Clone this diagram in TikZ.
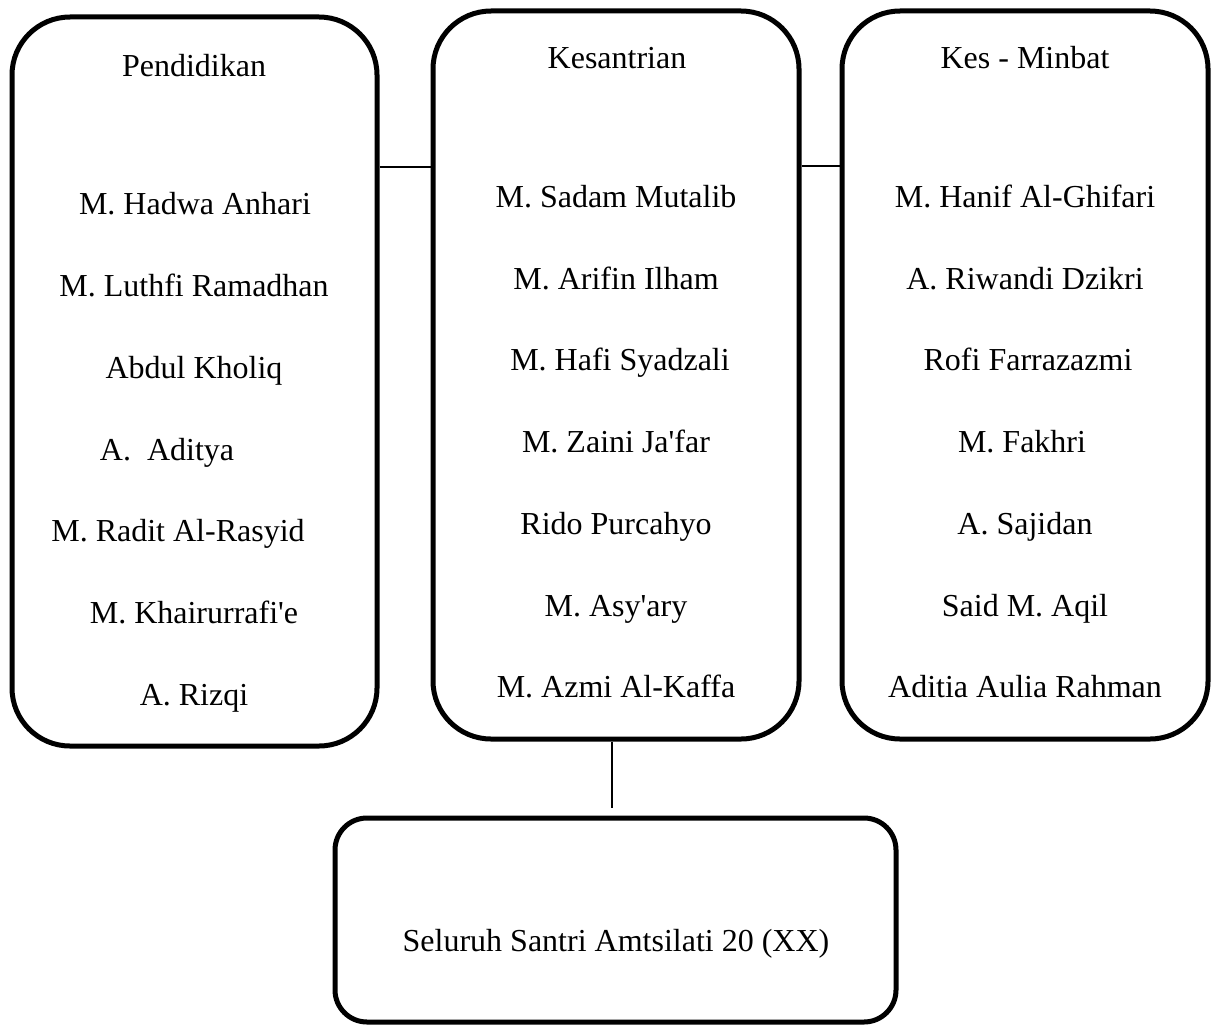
\documentclass[tikz,border=0pt]{standalone}
\usepackage{fontspec}
\setmainfont{Liberation Serif}
\begin{document}
\begin{tikzpicture}[x=1pt,y=-1pt,
  box/.style={draw=black, line width=5pt, inner sep=0pt, rounded corners=58pt},
  smallbox/.style={draw=black, line width=5pt, inner sep=0pt, rounded corners=32pt},
  lbl/.style={anchor=base, inner sep=0pt, font=\fontsize{32}{36}\selectfont},
  conn/.style={draw=black, line width=1.5pt}]
\useasboundingbox (0,0) rectangle (1217,1025);
% boxes
\node[box, minimum width=365pt, minimum height=729pt] (b1) at (194.5,381.5) {};
\node[box, minimum width=366pt, minimum height=728pt] (b2) at (616,375) {};
\node[box, minimum width=366pt, minimum height=728pt] (b3) at (1025,375) {};
\node[smallbox, minimum width=561pt, minimum height=204pt] (b4) at (615.5,920) {};
% connectors
\coordinate (c1) at (0,167);
\coordinate (c2) at (0,166);
\coordinate (v) at (612,808);
\draw[conn] (b1.east |- c1) -- (b2.west |- c1);
\draw[conn] (b2.east |- c2) -- (b3.west |- c2);
\draw[conn, line width=2pt] (b2.south -| v) -- (v);
% box 1 texts
\node[lbl] (t10) at (194,77) {Pendidikan};
\node[lbl] (t11) at (195,214) {M. Hadwa Anhari};
\node[lbl] (t12) at (194,296) {M. Luthfi Ramadhan};
\node[lbl] (t13) at (194,378) {Abdul Kholiq};
\node[lbl] (t14) at (167,460) {A.\ \ Aditya};
\node[lbl] (t15) at (178,541) {M. Radit Al-Rasyid};
\node[lbl] (t16) at (194,623) {M. Khairurrafi\textquotesingle e};
\node[lbl] (t17) at (194,705) {A. Rizqi};
% box 2 texts
\node[lbl] (t20) at (617,69) {Kesantrian};
\node[lbl] (t21) at (616,207) {M. Sadam Mutalib};
\node[lbl] (t22) at (616,289) {M. Arifin Ilham};
\node[lbl] (t23) at (620,370) {M. Hafi Syadzali};
\node[lbl] (t24) at (616,452) {M. Zaini Ja\textquotesingle far};
\node[lbl] (t25) at (616,534) {Rido Purcahyo};
\node[lbl] (t26) at (616,616) {M. Asy\textquotesingle ary};
\node[lbl] (t27) at (616,697) {M. Azmi Al-Kaffa};
% box 3 texts
\node[lbl] (t30) at (1025,69) {Kes - Minbat};
\node[lbl] (t31) at (1025,207) {M. Hanif Al-Ghifari};
\node[lbl] (t32) at (1025,289) {A. Riwandi Dzikri};
\node[lbl] (t33) at (1028,370) {Rofi Farrazazmi};
\node[lbl] (t34) at (1022,452) {M. Fakhri};
\node[lbl] (t35) at (1025,534) {A. Sajidan};
\node[lbl] (t36) at (1025,616) {Said M. Aqil};
\node[lbl] (t37) at (1025,697) {Aditia Aulia Rahman};
% box 4 text
\node[lbl] (t40) at (616,951) {Seluruh Santri Amtsilati 20 (XX)};
\end{tikzpicture}
\end{document}
